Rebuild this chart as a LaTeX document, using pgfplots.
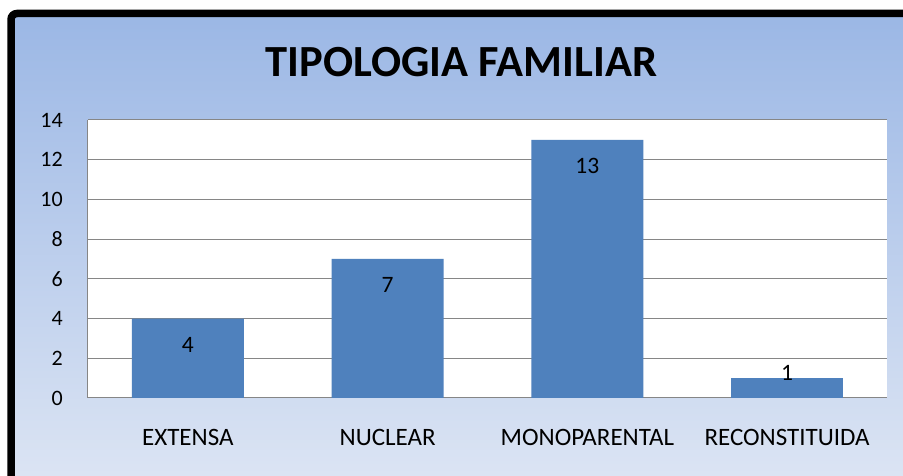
\documentclass[border=0pt]{standalone}
\usepackage{fontspec}
\setmainfont{Carlito}
\usepackage{pgfplots}
\pgfplotsset{compat=1.18}
\definecolor{bgtop}{HTML}{9BB7E5}
\definecolor{bgbot}{HTML}{DEE6F4}
\definecolor{barblue}{HTML}{4F81BD}
\definecolor{gridgray}{HTML}{868686}
\begin{document}
\begin{tikzpicture}
\path[use as bounding box] (0pt,0pt) rectangle (903pt,476pt);
\fill[white] (0pt,0pt) rectangle (903pt,476pt);
\begin{scope}
\clip (0pt,0pt) rectangle (903pt,476pt);
\shade[top color=bgtop, bottom color=bgbot, draw=black, line width=7.5pt, rounded corners=6pt]
  (11pt,-20pt) rectangle (930pt,462.5pt);
\end{scope}
\begin{axis}[
  at={(88pt,78pt)}, anchor=south west,
  width=799pt, height=278pt, scale only axis,
  xmin=-0.5, xmax=3.5, ymin=0, ymax=14,
  ytick={0,2,...,14},
  xtick={0,1,2,3},
  xticklabels={EXTENSA,NUCLEAR,MONOPARENTAL,RECONSTITUIDA},
  axis x line=bottom, axis y line=left,
  axis line style={draw=gridgray, line width=1pt, -},
  ymajorgrids, major grid style={draw=gridgray, line width=1pt},
  major tick length=0pt,
  axis background/.style={fill=white},
  /pgf/number format/assume math mode=true,
  yticklabel style={font=\fontsize{22}{26}\selectfont, anchor=east, inner sep=0pt, xshift=-25pt},
  xticklabel style={font=\fontsize{25}{30}\selectfont, anchor=base, inner sep=0pt, yshift=-48pt},
  ybar, bar width=112pt,
  nodes near coords,
  every node near coord/.append style={font=\fontsize{23.5}{28}\selectfont, anchor=base, inner sep=0pt, color=black},
]
\addplot[fill=barblue, draw=none, bar shift=0pt,
  every node near coord/.append style={yshift=-34pt}]
  coordinates {(0,4) (1,7) (2,13)};
\addplot[fill=barblue, draw=none, bar shift=0pt,
  every node near coord/.append style={yshift=-2pt}]
  coordinates {(3,1)};
\end{axis}
\node[anchor=base, font=\fontsize{44.5}{50}\selectfont\bfseries, inner sep=0pt] at (461.5pt,399pt) {TIPOLOGIA FAMILIAR};
\end{tikzpicture}
\end{document}
